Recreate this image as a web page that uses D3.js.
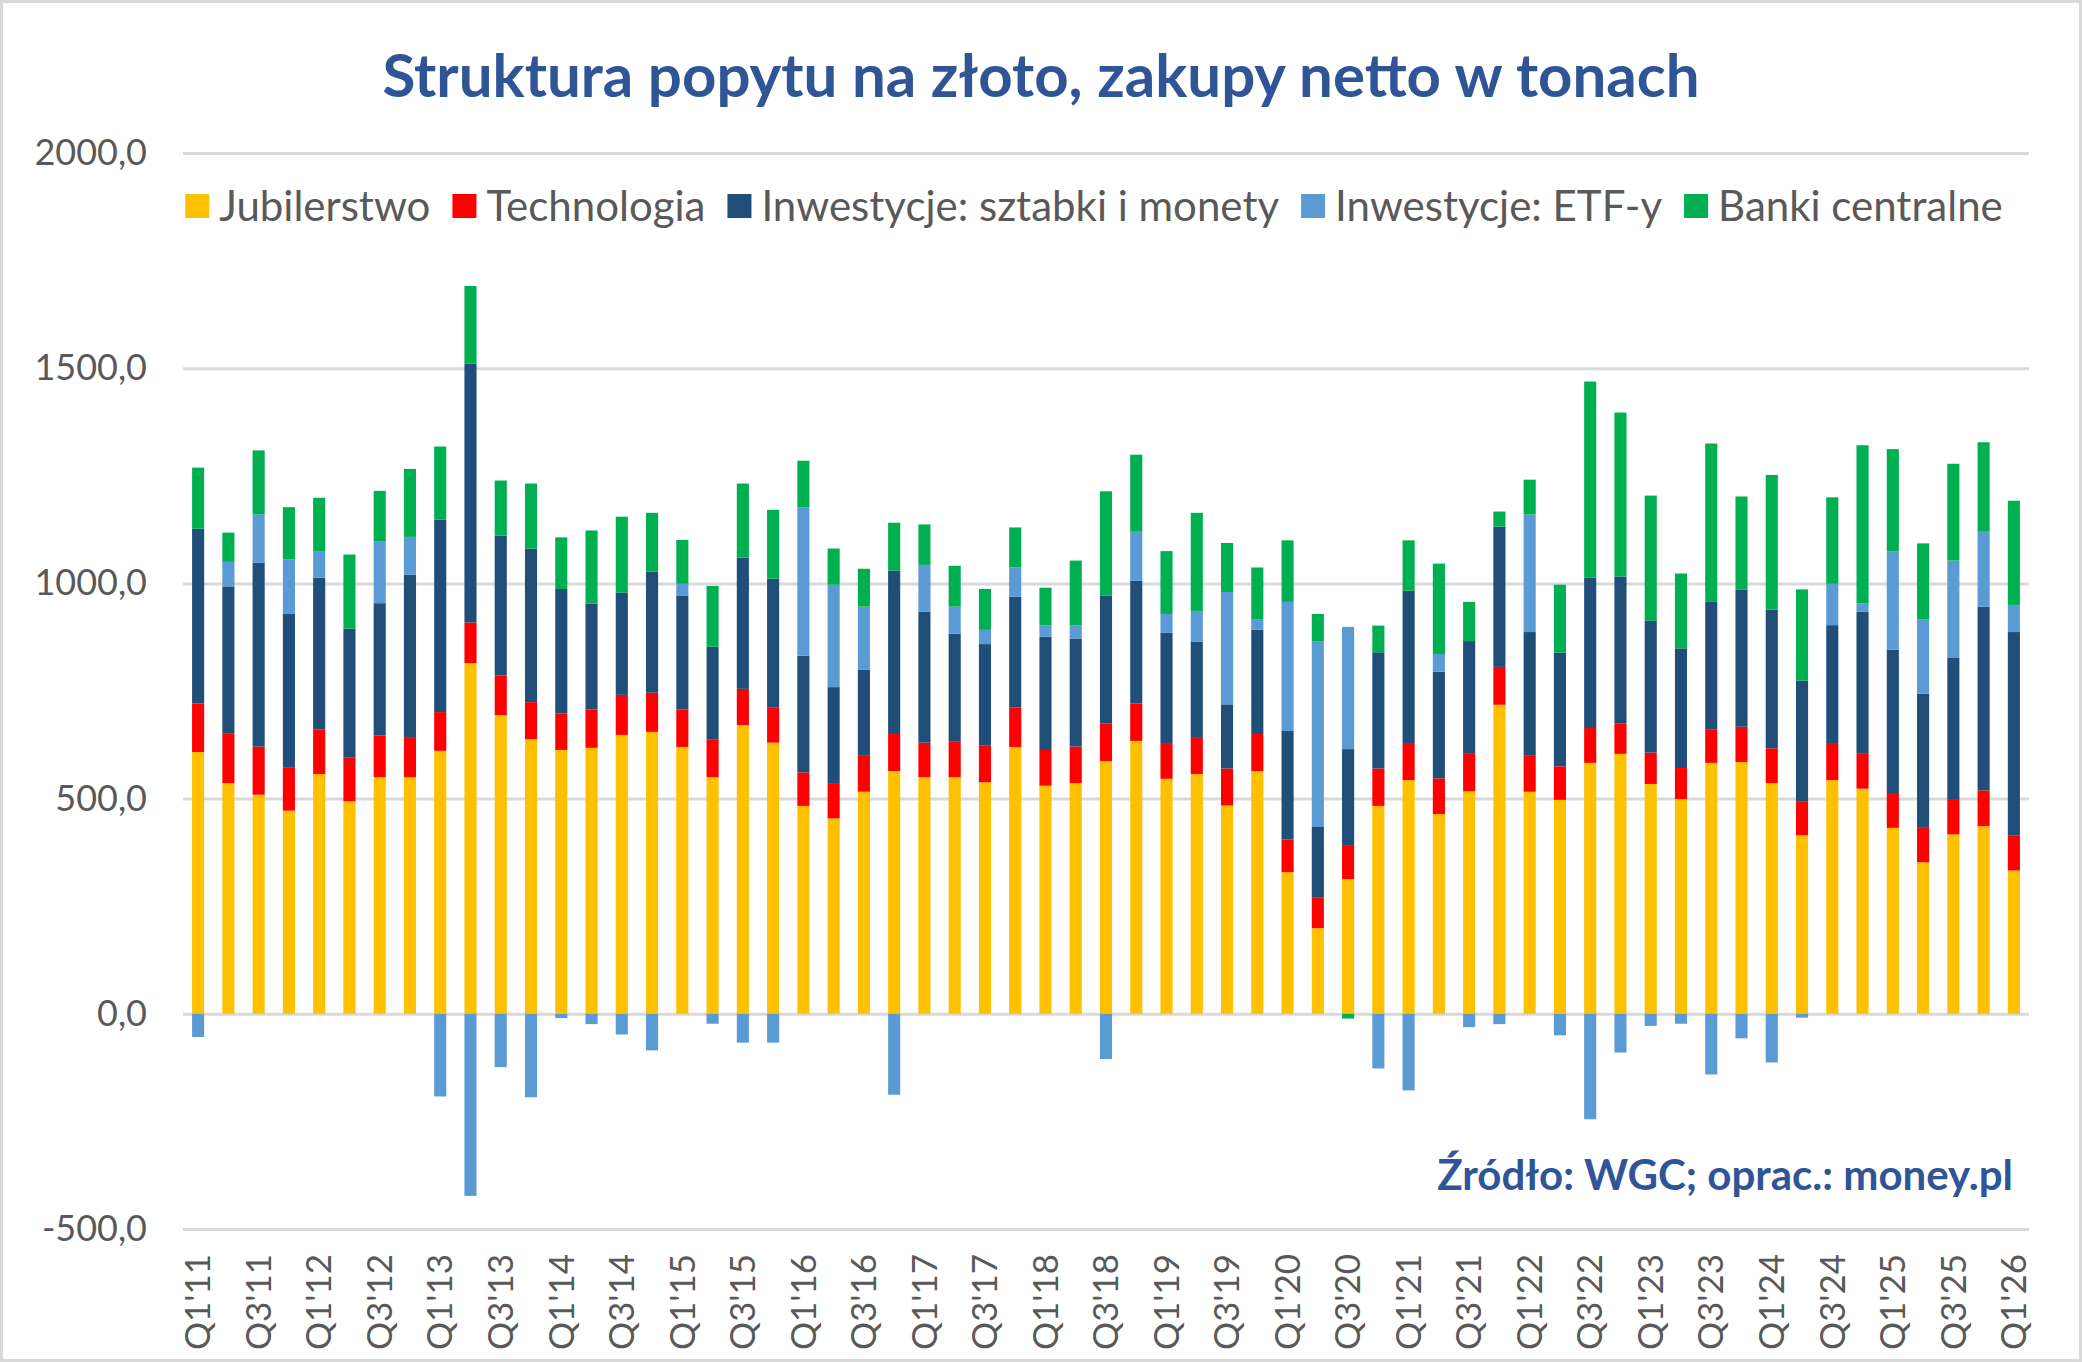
<!DOCTYPE html>
<html>
<head>
<meta charset="utf-8">
<script src="https://cdn.jsdelivr.net/npm/d3@7"></script>
<style>
  body { margin: 0; background: #fff; }
  svg { display: block; font-family: Lato, "Open Sans", sans-serif; }
</style>
</head>
<body>
<svg></svg>
<script>
// quarters Q1'11 .. Q1'26
var quarters = [];
for (var yr = 11; yr <= 26; yr++) {
  for (var q = 1; q <= 4; q++) {
    if (yr == 26 && q > 1) break;
    quarters.push("Q" + q + "'" + yr);
  }
}

// values, tonnes
var jubilerstwo = [608,536,509,472,557,494,550,550,611,815, 694,638,613,618,648,655,620,550,671,630,
  483,454,516,564,550,550,538,620,530,536, 587,634,546,557,484,564,329,199,313,483,
  543,464,517,718,516,497,583,604,534,499, 583,585,536,415,543,523,432,352,417,436,333];
var technologia = [113,116,112,101,104,101,97,91,90,94, 92,86,85,89,93,91,87,88,84,81,
  78,82,85,86,80,82,86,92,83,85, 88,87,81,84,86,86,76,72,79,87,
  84,83,87,88,85,78,81,71,73,72, 77,82,81,79,84,81,81,80,82,83,82];
var sztabki = [406,341,427,356,352,300,307,379,447,602, 325,357,289,246,238,281,265,215,305,300,
  271,223,198,380,304,251,235,257,263,251, 297,285,258,224,149,242,252,163,223,270,
  356,248,262,326,286,264,349,341,306,278, 297,319,322,280,276,330,333,312,329,427,472];
var etf = [-54,57,112,127,62,0,143,88,-192,-423, -124,-194,-10,-24,-48,-85,27,-23,-67,-67,
  345,238,147,-188,109,63,33,68,27,30, -105,114,44,71,261,25,300,432,284,-127,
  -178,41,-31,-24,273,-50,-245,-90,-28,-23, -141,-57,-113,-9,96,20,228,172,225,174,63];
var banki = [142,68,149,121,124,172,118,158,170,180, 128,151,120,170,176,137,102,141,172,160,
  108,84,88,111,94,95,95,93,87,151, 242,179,146,228,114,120,143,63,-11,62,
  117,210,91,35,81,158,456,381,291,174, 368,216,313,212,201,367,238,177,225,208,242];

var seriesNames = ["Jubilerstwo", "Technologia", "Inwestycje: sztabki i monety", "Inwestycje: ETF-y", "Banki centralne"];
var seriesKeys = ["jub", "tech", "bars", "etf", "cb"];
var colors = ["#FFC000", "#FF0000", "#1F4E79", "#5B9BD5", "#00B050"];
var yTicks = [-500, 0, 500, 1000, 1500, 2000];

var W = 2082, H = 1362;
var margin = {top: 153, right: 53, bottom: 133, left: 183},
    width = W - margin.left - margin.right,
    height = H - margin.top - margin.bottom;

var svg = d3.select("svg").attr("width", W).attr("height", H);

// frame
svg.append("rect")
    .attr("x", 1.5).attr("y", 1.5)
    .attr("width", W - 3).attr("height", H - 3)
    .attr("fill", "#fff")
    .attr("stroke", "#D9D9D9")
    .attr("stroke-width", 3);

// title
svg.append("text")
    .attr("x", W / 2)
    .attr("y", 97)
    .attr("text-anchor", "middle")
    .style("font-size", "60px")
    .style("font-weight", "bold")
    .style("fill", "#2F5597")
    .text("Struktura popytu na złoto, zakupy netto w tonach");

var data = quarters.map(function(d, i) {
  return {q: d, jub: jubilerstwo[i], tech: technologia[i], bars: sztabki[i], etf: etf[i], cb: banki[i]};
});

var stack = d3.stack().keys(seriesKeys).offset(d3.stackOffsetDiverging);
var layers = stack(data);

var x = d3.scaleBand().domain(quarters).range([0, width]).paddingInner(0.6).paddingOuter(0.3);
var y = d3.scaleLinear().domain([-500, 2000]).range([height, 0]);

var g = svg.append("g")
    .attr("transform", "translate(" + margin.left + "," + margin.top + ")");

// gridlines + y labels
var loc = d3.formatLocale({decimal: ",", thousands: "", grouping: [3], currency: ["", ""], minus: "-"});
var fmt = loc.format(".1f");

var yAxis = g.append("g")
    .call(d3.axisLeft(y).tickValues(yTicks).tickSize(-width).tickPadding(36).tickFormat(fmt));
yAxis.select(".domain").remove();
yAxis.selectAll(".tick line").attr("stroke", "#D9D9D9").attr("stroke-width", 3);
yAxis.selectAll(".tick text")
    .style("font-size", "36px")
    .style("font-family", "Lato, sans-serif")
    .attr("fill", "#595959");

// bars
g.selectAll(".layer")
  .data(layers)
  .enter().append("g")
    .attr("class", "layer")
    .attr("fill", function(d, i) { return colors[i]; })
  .selectAll("rect")
  .data(function(d) { return d; })
  .enter().append("rect")
    .attr("x", function(d) { return x(d.data.q); })
    .attr("width", x.bandwidth())
    .attr("y", function(d) { return y(Math.max(d[0], d[1])); })
    .attr("height", function(d) { return Math.abs(y(d[0]) - y(d[1])); });

// x labels, every second quarter, rotated
var xAxis = g.append("g")
    .attr("transform", "translate(0," + height + ")")
    .call(d3.axisBottom(x).tickSize(0).tickValues(quarters.filter(function(d, i) { return i % 2 == 0; })));
xAxis.select(".domain").remove();
xAxis.selectAll(".tick text")
    .attr("transform", "rotate(-90)")
    .attr("text-anchor", "end")
    .attr("x", -25)
    .attr("y", 0)
    .attr("dy", "0.35em")
    .style("font-size", "35px")
    .style("font-family", "Lato, sans-serif")
    .attr("fill", "#595959");

// legend
var legend = svg.append("g").attr("transform", "translate(0,206)");
var lx = 0;
seriesNames.forEach(function(name, i) {
  var item = legend.append("g").attr("transform", "translate(" + lx + ",0)");
  item.append("rect")
      .attr("x", 0).attr("y", -12)
      .attr("width", 24).attr("height", 24)
      .attr("fill", colors[i]);
  var t = item.append("text")
      .attr("x", 34)
      .attr("dy", "0.35em")
      .style("font-size", "42px")
      .style("fill", "#595959")
      .text(name);
  lx += 34 + t.node().getComputedTextLength() + 22;
});
var legendW = lx - 22;
legend.attr("transform", "translate(" + (1094 - legendW / 2) + ",206)");

// source
svg.append("text")
    .attr("x", 2013)
    .attr("y", 1190)
    .attr("text-anchor", "end")
    .style("font-size", "42px")
    .style("font-weight", "bold")
    .style("fill", "#2F5597")
    .text("Źródło: WGC; oprac.: money.pl");
</script>
</body>
</html>
